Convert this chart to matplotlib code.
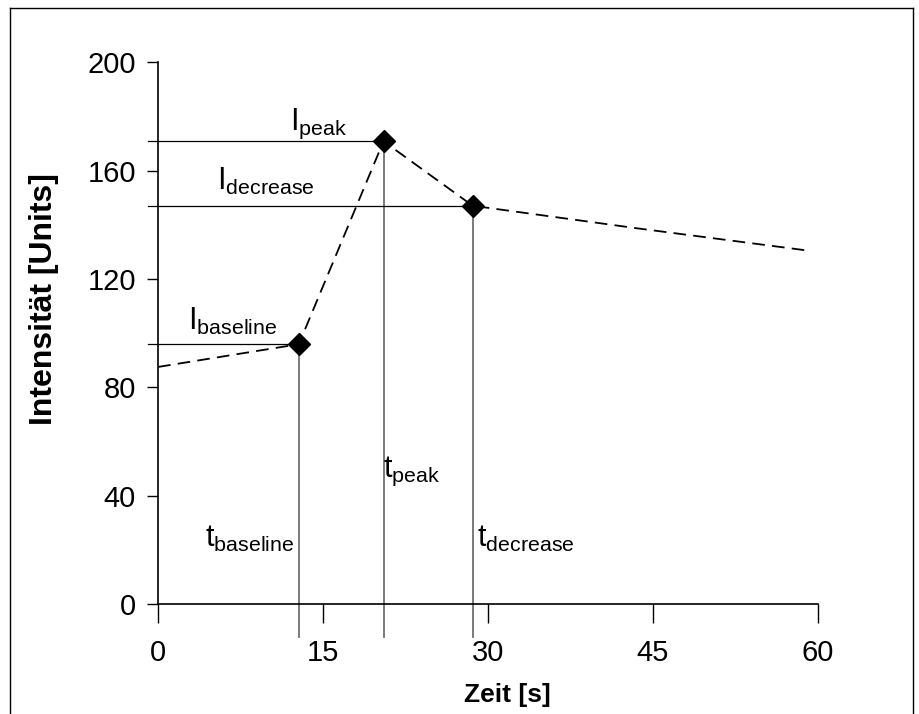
import matplotlib
matplotlib.use("Agg")
import matplotlib.pyplot as plt
from matplotlib.lines import Line2D

# ---------------------------------------------------------------------------
# Data
# ---------------------------------------------------------------------------
time_s    = [0.0, 12.8, 20.5, 28.6, 43.5, 58.8]
intensity = [87.5, 95.9, 170.8, 147.0, 138.7, 130.6]

key_names = ["baseline", "peak", "decrease"]
key_time  = [12.8, 20.5, 28.6]
key_int   = [95.9, 170.8, 147.0]

x_ticks = [0, 15, 30, 45, 60]
y_ticks = [0, 40, 80, 120, 160, 200]

# ---------------------------------------------------------------------------
# Style
# ---------------------------------------------------------------------------
plt.rcParams["font.family"] = ["Liberation Sans", "DejaVu Sans"]
plt.rcParams["mathtext.fontset"] = "custom"
plt.rcParams["mathtext.rm"] = "Liberation Sans"
plt.rcParams["mathtext.it"] = "Liberation Sans"

fig = plt.figure(figsize=(9.19, 7.14), dpi=100)
ax = fig.add_axes([0.172, 0.154, 0.718, 0.759])

# dashed intensity curve + key points
ax.plot(time_s, intensity, color="black", linestyle=(0, (7, 4)), linewidth=1.3,
        zorder=3)
ax.plot(key_time, key_int, linestyle="none", marker="D", markersize=11,
        color="black", zorder=4)

# guide lines to the axes
for t, v in zip(key_time, key_int):
    ax.plot([-0.9, t], [v, v], color="black", linewidth=0.9, clip_on=False,
            zorder=2)
    ax.plot([t, t], [-12, v], color="#707070", linewidth=1.3, clip_on=False,
            zorder=2)

# annotation labels: I_x above the horizontal lines, t_x beside the verticals
lab_kw = dict(fontsize=22, color="black", va="baseline")
i_pos = {"peak": (12.0, 175.0), "decrease": (5.4, 153.0), "baseline": (2.7, 101.0)}
t_pos = {"baseline": (12.4, 21.0, "right"), "peak": (20.45, 46.9, "left"),
         "decrease": (29.0, 21.0, "left")}
for name in key_names:
    x, y = i_pos[name]
    ax.text(x, y, r"I$_{\mathregular{%s}}$" % name, ha="left", **lab_kw)
    x, y, ha = t_pos[name]
    ax.text(x, y, r"t$_{\mathregular{%s}}$" % name, ha=ha, **lab_kw)

# axes
ax.set_xlim(0, 60)
ax.set_ylim(0, 200)
ax.set_xticks(x_ticks)
ax.set_yticks(y_ticks)
ax.spines["top"].set_visible(False)
ax.spines["right"].set_visible(False)
for side in ("left", "bottom"):
    ax.spines[side].set_linewidth(1.2)
ax.tick_params(axis="x", direction="out", length=14, width=1.0, pad=11,
               labelsize=21)
ax.tick_params(axis="y", direction="out", length=8, width=1.0, pad=8,
               labelsize=21)

ax.set_xlabel("Zeit [s]", fontsize=19, fontweight="bold")
ax.xaxis.set_label_coords(0.53, -0.145)
fig.text(0.048, 1 - 299 / 714, "Intensität [Units]", rotation=90,
         ha="center", va="center", fontsize=23, fontweight="bold")

# outer frame (bottom edge cut off)
frame_kw = dict(color="black", linewidth=1.0, transform=fig.transFigure)
x0, x1, y1 = 10 / 919, 913 / 919, 1 - 8 / 714
fig.add_artist(Line2D([x0, x0], [0, y1], **frame_kw))
fig.add_artist(Line2D([x0, x1], [y1, y1], **frame_kw))
fig.add_artist(Line2D([x1, x1], [0, y1], **frame_kw))

fig.savefig("out.png", dpi=100)
